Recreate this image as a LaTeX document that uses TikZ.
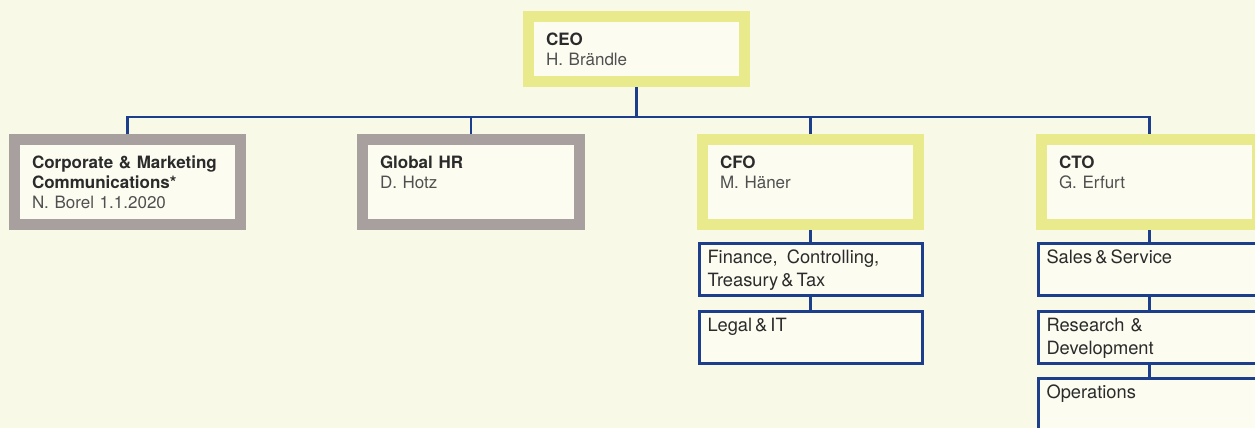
\documentclass[tikz,border=0pt]{standalone}
\usepackage{fontspec}
\setmainfont{TeX Gyre Heros}
\usetikzlibrary{positioning}

\definecolor{bgcol}{HTML}{F9F9E7}
\definecolor{boxfill}{HTML}{FCFCF1}
\definecolor{headcol}{HTML}{E8EA8C}
\definecolor{staffcol}{HTML}{A7A09F}
\definecolor{linecol}{HTML}{1D3F8B}
\definecolor{txtcol}{HTML}{2B2B2B}
\definecolor{namecol}{HTML}{505050}

\tikzset{
  orgbox/.style={draw=#1, line width=11pt, fill=boxfill, inner xsep=17.5pt, inner ysep=0pt,
    align=left, text=txtcol, font=\fontsize{17}{20}\selectfont,
    text height=28.5pt, text depth=56.5pt},
  unitbox/.style={draw=linecol, line width=3pt, fill=boxfill, inner xsep=8.5pt, inner ysep=0pt,
    align=left, text=txtcol, font=\fontsize{18.3}{23}\selectfont,
    text width=206pt, text height=20pt, text depth=32pt},
  conn/.style={draw=linecol, line width=2.7pt}
}

\begin{document}
\begin{tikzpicture}[x=1pt,y=-1pt]
\useasboundingbox (0,0) rectangle (1255,428);
\clip (0,0) rectangle (1255,428);
\fill[bgcol] (0,0) rectangle (1255,428);
% top
\node (ceo) [orgbox=headcol, text width=181pt, text height=29.5pt, text depth=35.5pt]
  at (636.5,49) {\textbf{CEO}\\\textcolor{namecol}{H. Brändle}};
% second row
\node (corp) [orgbox=staffcol, text width=191pt] at (127.5,182)
  {\textbf{Corporate \& Marketing}\\\textbf{Communications*}\\\textcolor{namecol}{N. Borel 1.1.2020}};
\node (hr) [orgbox=staffcol, text width=182pt] at (471,182)
  {\textbf{Global HR}\\\textcolor{namecol}{D. Hotz}};
\node (cfo) [orgbox=headcol, text width=181pt] at (810.5,182)
  {\textbf{CFO}\\\textcolor{namecol}{M. Häner}};
\node (cto) [orgbox=headcol, text width=181pt] at (1149.5,182)
  {\textbf{CTO}\\\textcolor{namecol}{G. Erfurt}};
% units
\node (fin) [unitbox, below=12pt of cfo] {Finance, \,Controlling,\\Treasury\,\&\,Tax};
\node (legal) [unitbox, below=13pt of fin] {Legal\,\&\,IT};
\node (sales) [unitbox, below=12pt of cto] {Sales\,\&\,Service};
\node (rnd) [unitbox, below=13pt of sales] {Research \&\\Development};
\node (ops) [unitbox, below=12pt of rnd] {Operations};
% lines
\coordinate (bus) at (0,117);
\draw[conn] (ceo.south) -- (ceo.south |- bus);
\draw[conn] (corp.north) |- (bus -| cto.north) -- (cto.north);
\draw[conn] (hr.north) -- (hr.north |- bus);
\draw[conn] (cfo.north) -- (cfo.north |- bus);
\draw[conn] (cfo.south) -- (fin.north);
\draw[conn] (fin.south) -- (legal.north);
\draw[conn] (cto.south) -- (sales.north);
\draw[conn] (sales.south) -- (rnd.north);
\draw[conn] (rnd.south) -- (ops.north);
\end{tikzpicture}
\end{document}
